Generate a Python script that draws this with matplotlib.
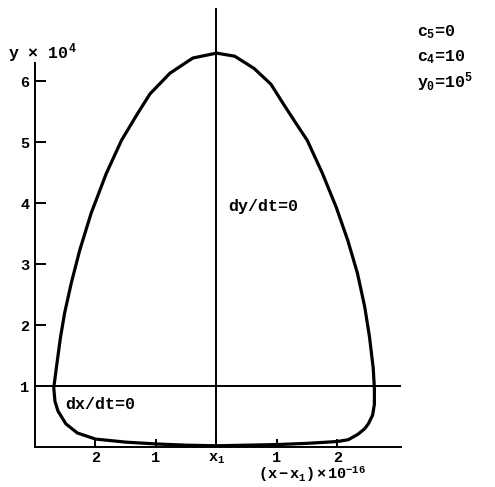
"""
phase plane: y versus (x - x1), with the two null-clines
dx/dt = 0 (y = 1) and dy/dt = 0 (x = x1)
"""
import matplotlib
matplotlib.use("Agg")
import matplotlib.pyplot as plt

plt.rcParams['font.family'] = ['Liberation Mono', 'DejaVu Sans']
plt.rcParams['font.weight'] = 'bold'
plt.rcParams['mathtext.fontset'] = 'custom'
plt.rcParams['mathtext.rm'] = 'Liberation Mono:bold'
plt.rcParams['mathtext.it'] = 'Liberation Mono:bold'
plt.rcParams['mathtext.bf'] = 'Liberation Mono:bold'

# trajectory, (x - x1) * 1e16 and y * 1e-4, read around the loop
xs = [-1.0, -0.5, 0.0, 0.5, 1.0, 1.5, 2.0, 2.18, 2.34, 2.45, 2.51, 2.58,
      2.61, 2.61, 2.59, 2.56, 2.53, 2.45, 2.33, 2.17, 1.98, 1.75, 1.50,
      1.30, 1.11, 0.90, 0.62, 0.30, 0.0, -0.39, -0.77, -1.10, -1.31, -1.57,
      -1.82, -2.07, -2.26, -2.40, -2.51, -2.58, -2.64, -2.69, -2.67, -2.62,
      -2.49, -2.30, -2.0, -1.5, -1.0]
ys = [0.05, 0.03, 0.02, 0.03, 0.04, 0.06, 0.09, 0.12, 0.21, 0.30, 0.38,
      0.52, 0.70, 0.97, 1.30, 1.55, 1.80, 2.30, 2.85, 3.39, 3.93, 4.49,
      5.03, 5.33, 5.62, 5.95, 6.21, 6.41, 6.46, 6.38, 6.13, 5.79, 5.46,
      5.03, 4.49, 3.84, 3.23, 2.69, 2.20, 1.79, 1.35, 0.97, 0.75, 0.59,
      0.38, 0.23, 0.13, 0.08, 0.05]

xticks = [-2, -1, 0, 1, 2]
xticklabels = ['2', '1', '$x_1$', '1', '2']
yticks = [1, 2, 3, 4, 5, 6]
yticklabels = ['1', '2', '3', '4', '5', '6']

params = ['$c_5$=0', '$c_4$=10', '$y_0$=10$^5$']

fig = plt.figure(figsize=(4.95, 4.87), dpi=100)
ax = fig.add_axes([35 / 495, 40 / 487, 366 / 495, 439 / 487])
ax.set_xlim(-3, 3.05)
ax.set_ylim(0, 7.2)

# null-clines
ax.axhline(1, color='black', lw=1.4)
ax.axvline(0, color='black', lw=1.4)

ax.plot(xs, ys, color='black', lw=2.3, solid_joinstyle='round',
        solid_capstyle='round')

for side in ['top', 'right']:
    ax.spines[side].set_visible(False)
ax.spines['left'].set_bounds(0, 6.3)
ax.spines['left'].set_linewidth(1.4)
ax.spines['bottom'].set_linewidth(1.4)

ax.set_xticks(xticks)
ax.set_xticklabels(xticklabels)
ax.set_yticks(yticks)
ax.set_yticklabels(yticklabels)
ax.tick_params(axis='x', direction='in', length=6, width=1.4, pad=3,
               labelsize=11)
ax.tick_params(axis='y', direction='in', length=8, width=1.4, pad=4,
               labelsize=11)

fig.text(8 / 495, 1 - 53 / 487, 'y \u00d7 10$^4$', fontsize=12,
         ha='left', va='center')
fig.text(312 / 495, 1 - 474 / 487, '$(x-x_1)\\times10^{-16}$', fontsize=11,
         ha='center', va='center')

ax.text(0.2, 3.95, 'dy/dt=0', fontsize=12, ha='left', va='center')
ax.text(-2.5, 0.7, 'dx/dt=0', fontsize=12, ha='left', va='center')

for i, s in enumerate(params):
    fig.text(417 / 495, 1 - (32 + 25 * i) / 487, s, fontsize=12,
             ha='left', va='center')

fig.savefig('out.png', dpi=100)
